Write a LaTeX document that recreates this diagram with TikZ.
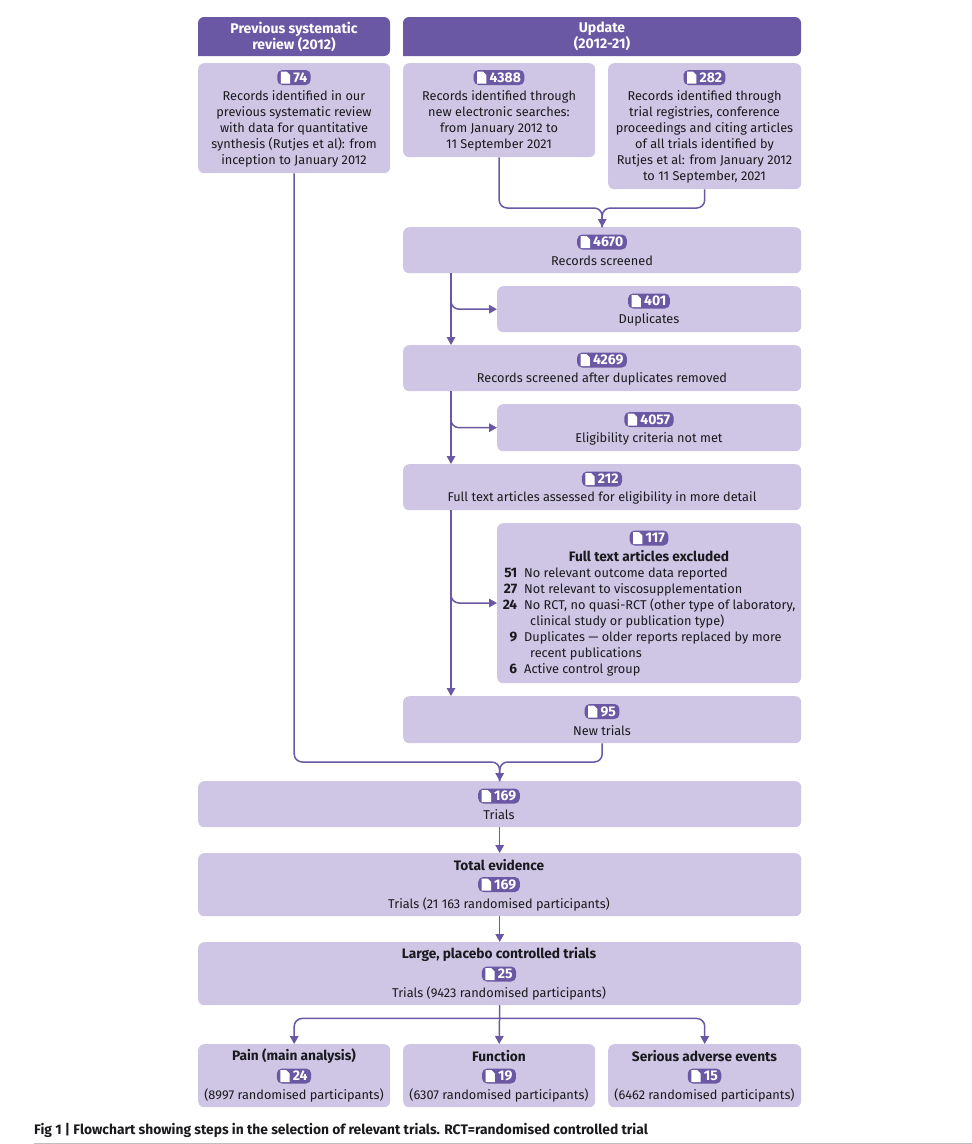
\documentclass[tikz,border=0pt]{standalone}
\usepackage{fontspec}
\setmainfont{Fira Sans}
\usetikzlibrary{arrows.meta,calc}
\definecolor{headc}{RGB}{107,88,165}
\definecolor{boxc}{RGB}{206,198,228}
\definecolor{inkc}{RGB}{26,26,30}
\tikzset{
 boxn/.style={fill=boxc,rounded corners=6pt,anchor=north west,inner sep=0pt},
 txt/.style={inner sep=0pt,text=inkc,align=center,yshift=-1pt,font=\fontsize{12.75}{16}\selectfont},
 btxt/.style={inner sep=0pt,text=inkc,align=center,yshift=-0.5pt,font=\fontsize{13.7}{16}\selectfont\bfseries},
 htxt/.style={inner sep=0pt,text=white,align=center,font=\fontsize{14}{16}\selectfont\bfseries},
 badgen/.style={fill=headc,rounded corners=5pt,inner xsep=3.5pt,inner ysep=0pt,minimum height=15pt,text=white,font=\fontsize{14}{15}\selectfont\bfseries},
 conn/.style={draw=headc,line width=1.5pt,rounded corners=8pt},
 arr/.style={conn,-{Triangle[length=8pt,width=8.5pt]}}
}
\newcommand{\bx}[5]{\node[boxn,minimum width=#4pt,minimum height=#5pt] (#1) at (#2,#3) {};}
\newcommand{\badge}[4]{%
 \node[badgen] (#1) at (#2,#3) {\hspace{12.5pt}#4};
 \begin{scope}[shift={(#1.west)}]
  \fill[white] (3.7,-6) -- (9.5,-6) -- (13,-2.5) -- (13,6) -- (3.7,6) -- cycle;
 \end{scope}}
\newcommand{\lnum}[1]{\makebox[15pt][r]{\fontsize{13.7}{16}\selectfont\bfseries #1}\hspace{7pt}}
\begin{document}
\begin{tikzpicture}[x=1pt,y=-1pt]
\useasboundingbox (0,0) rectangle (972,1144);
\fill[white] (0,0) rectangle (972,1144);
% headers
\fill[headc] (198,56) {[rounded corners=6pt] -- (198,17) -- (390,17) -- (390,56)} -- cycle;
\fill[headc] (403,56) {[rounded corners=6pt] -- (403,17) -- (801,17) -- (801,56)} -- cycle;
\node[htxt] (hprev) at (294,36.5) {Previous systematic\\review (2012)};
\node[htxt] (hupd) at (602,36.5) {Update\\(2012-21)};
% boxes
\bx{b74}{198}{63}{192}{110}
\bx{b4388}{403}{63}{192}{94}
\bx{b282}{608}{63}{193}{126}
\bx{b4670}{403}{227}{398}{46}
\bx{b401}{497}{286}{304}{46}
\bx{b4269}{403}{345}{398}{46}
\bx{b4057}{497}{404}{304}{47}
\bx{b212}{403}{464}{398}{46}
\bx{b117}{497}{523}{304}{160}
\bx{b95}{403}{696}{398}{47}
\bx{b169}{198}{781}{603}{46}
\bx{btot}{198}{853}{603}{63}
\bx{blarge}{198}{942}{603}{63}
\bx{bpain}{198}{1044}{192}{63}
\bx{bfunc}{403}{1044}{192}{63}
\bx{bsae}{608}{1044}{193}{63}
% badges and text
\badge{n74}{294}{77.5}{74}
\node[txt] (t74) at (294,127.5) {Records identified in our\\previous systematic review\\with data for quantitative\\synthesis (Rutjes et al): from\\inception to January 2012};
\badge{n4388}{499}{77.5}{4388}
\node[txt] (t4388) at (499,119.5) {Records identified through\\new electronic searches:\\from January 2012 to\\11 September 2021};
\badge{n282}{704.5}{77.5}{282}
\node[txt] (t282) at (704.5,135.5) {Records identified through\\trial registries, conference\\proceedings and citing articles\\of all trials identified by\\Rutjes et al: from January 2012\\to 11 September, 2021};
\badge{n4670}{602}{242}{4670}
\node[txt] (t4670) at (602,260) {Records screened};
\badge{n401}{649}{301}{401}
\node[txt] (t401) at (649,319) {Duplicates};
\badge{n4269}{602}{360}{4269}
\node[txt] (t4269) at (602,378) {Records screened after duplicates removed};
\badge{n4057}{649}{419.5}{4057}
\node[txt] (t4057) at (649,437.5) {Eligibility criteria not met};
\badge{n212}{602}{479}{212}
\node[txt] (t212) at (602,497) {Full text articles assessed for eligibility in more detail};
\badge{n117}{649}{538}{117}
\node[btxt] (t117h) at (649,556) {Full text articles excluded};
\node[txt,align=left,anchor=north west] (t117) at (502,567) {%
\lnum{51}No relevant outcome data reported\\
\lnum{27}Not relevant to viscosupplementation\\
\lnum{24}No RCT, no quasi-RCT (other type of laboratory,\\
\hspace{28pt}clinical study or publication type)\\
\lnum{9}Duplicates — older reports replaced by more\\
\hspace{28pt}recent publications\\
\lnum{6}Active control group};
\badge{n95}{602}{711.5}{95}
\node[txt] (t95) at (602,729.5) {New trials};
\badge{n169a}{499}{796}{169}
\node[txt] (t169a) at (499,814) {Trials};
\node[btxt] (ttot) at (499,865) {Total evidence};
\badge{n169b}{499}{884.5}{169}
\node[txt] (ttot2) at (499,903) {Trials (21 163 randomised participants)};
\node[btxt] (tlarge) at (499,954) {Large, placebo controlled trials};
\badge{n25}{499}{974}{25}
\node[txt] (tlarge2) at (499,992) {Trials (9423 randomised participants)};
\node[btxt] (tpain) at (294,1056) {Pain (main analysis)};
\badge{n24}{294}{1076}{24}
\node[txt] (tpain2) at (294,1094) {(8997 randomised participants)};
\node[btxt] (tfunc) at (499,1056) {Function};
\badge{n19}{499}{1076}{19}
\node[txt] (tfunc2) at (499,1094) {(6307 randomised participants)};
\node[btxt] (tsae) at (704.5,1056) {Serious adverse events};
\badge{n15}{704.5}{1076}{15}
\node[txt] (tsae2) at (704.5,1094) {(6462 randomised participants)};
% connectors
\coordinate (j1) at ($(b4670.north)+(0,-19)$);
\draw[conn] (b4388.south) |- (j1) -- (b4670.north);
\draw[conn] (b282.south) |- (j1) -- (b4670.north);
\draw[arr,rounded corners=0pt] ($(b4670.north)+(0,-10)$) -- (b4670.north);
\coordinate (a1) at ($(b4670.south west)+(48,0)$);
\coordinate (a2) at ($(b4269.north west)+(48,0)$);
\coordinate (a3) at ($(b4269.south west)+(48,0)$);
\coordinate (a4) at ($(b212.north west)+(48,0)$);
\coordinate (a5) at ($(b212.south west)+(48,0)$);
\coordinate (a6) at ($(b95.north west)+(48,0)$);
\draw[arr] (a1) -- (a2);
\draw[arr] (a1) |- (b401.west);
\draw[arr] (a3) -- (a4);
\draw[arr] (a3) |- (b4057.west);
\draw[arr] (a5) -- (a6);
\draw[arr] (a5) |- ($(b117.north west)+(0,80)$);
\coordinate (j2) at ($(b169.north)+(0,-19)$);
\draw[conn] (b74.south) |- (j2) -- (b169.north);
\draw[conn] (b95.south) |- (j2) -- (b169.north);
\draw[arr,rounded corners=0pt] ($(b169.north)+(0,-10)$) -- (b169.north);
\draw[arr] (b169.south) -- (btot.north);
\draw[arr] (btot.south) -- (blarge.north);
\coordinate (j3) at ($(blarge.south)+(0,13)$);
\draw[arr] (blarge.south) -- (bfunc.north);
\draw[arr] (j3) -| (bpain.north);
\draw[arr] (j3) -| (bsae.north);
\draw[conn] (blarge.south) -- (j3);
% caption
\node[inner sep=0pt,anchor=west,text=inkc,font=\fontsize{13.8}{16}\selectfont\bfseries] (cap) at (34,1130) {Fig 1 | Flowchart showing steps in the selection of relevant trials. RCT=randomised controlled trial};
\coordinate (r1) at (34,1143.5);
\coordinate (r2) at (972,1143.5);
\draw[gray!50,line width=0.8pt] (r1) -- (r2);
\end{tikzpicture}
\end{document}
